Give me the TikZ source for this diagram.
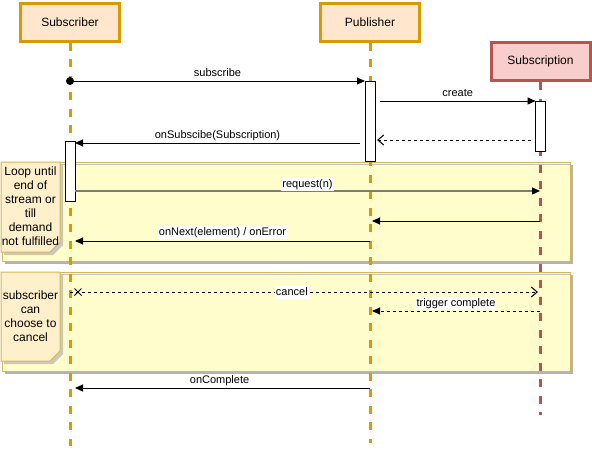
\documentclass[tikz,border=0pt]{standalone}
\usepackage{fontspec}
\setmainfont{Liberation Sans}
\usetikzlibrary{arrows.meta,calc}

\definecolor{lifeOrange}{HTML}{D79B00}
\definecolor{headOrange}{HTML}{FFE6CC}
\definecolor{lifeRed}{HTML}{B85450}
\definecolor{headRed}{HTML}{F8CECC}
\definecolor{frameFill}{HTML}{FFFDCC}
\definecolor{frameLine}{HTML}{D6B656}
\definecolor{noteFill}{HTML}{FFF0CC}
\definecolor{shadowGrey}{HTML}{B3B3B3}
\definecolor{fadedLine}{RGB}{125,125,105}

\tikzset{
  headbox/.style 2 args={draw=#1, fill=#2, line width=3pt, minimum width=99pt,
    minimum height=38pt, inner sep=0pt, font=\fontsize{12}{14}\selectfont},
  lifeline/.style={draw=#1, line width=3pt, dash pattern=on 8pt off 8.5pt},
  activation/.style={draw=black, fill=white, line width=1pt, minimum width=10pt,
    inner sep=0pt, outer sep=0pt},
  msg/.style={line width=1pt, -{Triangle[length=8pt,width=7pt]}},
  dashmsg/.style={msg, dash pattern=on 3pt off 3pt},
  openreply/.style={line width=1pt, dash pattern=on 3pt off 3pt,
    -{Straight Barb[length=6pt,width=10pt,line width=1pt]}},
  lbl/.style={fill=white, inner sep=1pt, font=\fontsize{11}{13}\selectfont,
    text height=8pt, text depth=2.5pt},
  framebox/.style={draw=frameLine, fill=frameFill, line width=1pt},
  notebox/.style={draw=frameLine, fill=noteFill, line width=1pt},
  notetext/.style={font=\fontsize{12}{14}\selectfont, align=center, inner sep=0pt},
}

\begin{document}
\begin{tikzpicture}[x=1pt,y=-1pt]
\useasboundingbox (0,0) rectangle (592,453);

% ---- combined fragments (loop / cancel) with their notes ----
\fill[shadowGrey] (5,165) rectangle (573,264);
\draw[framebox] (2,162) rectangle (570,261);
\draw[shadowGrey!80, line width=0.8pt] (5,164.6) -- (569.5,164.6);
\fill[shadowGrey!70!frameFill] (4,165) -- (63,165) -- (63,245) -- (53,255) -- (4,255) -- cycle;
\draw[notebox] (1,162) -- (60,162) -- (60,242) -- (50,252) -- (1,252) -- cycle;
\node[notetext] (loopNote) at (30.5,206.5)
  {Loop until\\end of\\stream or\\till\\demand\\not fulfilled};

\fill[shadowGrey] (5,275) rectangle (573,374);
\draw[framebox] (2,272) rectangle (570,371);
\draw[shadowGrey!80, line width=0.8pt] (5,274.6) -- (569.5,274.6);
\fill[shadowGrey!70!frameFill] (4,275) -- (63,275) -- (63,354) -- (53,364) -- (4,364) -- cycle;
\draw[notebox] (1,272) -- (60,272) -- (60,351) -- (50,361) -- (1,361) -- cycle;
\node[notetext] (cancelNote) at (30.5,316.5)
  {subscriber\\can\\choose to\\cancel};

% ---- participants ----
\node[headbox={lifeOrange}{headOrange}] (subscriber) at (70,22) {Subscriber};
\node[headbox={lifeOrange}{headOrange}] (publisher) at (370,22) {Publisher};
\node[headbox={lifeRed}{headRed}] (subscription) at (540.5,61.5) {Subscription};

% ---- lifelines ----
\coordinate (subscriberEnd) at (70,446);
\coordinate (publisherEnd) at (370,443);
\coordinate (subscriptionEnd) at (540.5,415);
\draw[lifeline=lifeOrange] (subscriber.south) -- (subscriberEnd);
\draw[lifeline=lifeOrange] (publisher.south) -- (publisherEnd);
\draw[lifeline=lifeRed] (subscription.south) -- (subscriptionEnd);

% ---- activation bars ----
\node[activation, minimum height=80pt] (pubAct) at (370,121) {};
\node[activation, minimum height=50pt] (subnAct) at (540.5,126) {};
\node[activation, minimum height=60pt] (subAct) at (70,171) {};

% ---- messages ----
\coordinate (subscribeStart) at (70,81);
\fill (subscribeStart) circle (4pt);
\draw[msg] (subscribeStart) -- node[lbl, yshift=7pt] (lblSubscribe) {subscribe} (pubAct.north west);

\coordinate (createStart) at (380,101);
\draw[msg] (createStart) -- node[lbl, yshift=7.5pt] (lblCreate) {create} (subnAct.north west);

\coordinate (replyStart) at (531,140);
\coordinate (replyEnd) at (377,140);
\draw[openreply] (replyStart) -- (replyEnd);

\coordinate (onSubStart) at (360,143);
\coordinate (onSubEnd) at (75,143);
\draw[msg] (onSubStart) -- node[lbl, yshift=7.5pt] (lblOnSub) {onSubscibe(Subscription)} (onSubEnd);

\coordinate (requestStart) at (75,191);
\coordinate (requestEnd) at (540,191);
\draw[line width=1.3pt, draw=fadedLine, -{Triangle[length=8pt,width=7pt,color=black]}]
  (requestStart) -- node[lbl, yshift=6.5pt] (lblRequest) {request(n)} (requestEnd);

\coordinate (emitStart) at (540,221);
\coordinate (emitEnd) at (372,221);
\draw[msg] (emitStart) -- (emitEnd);

\coordinate (onNextStart) at (370,241);
\coordinate (onNextEnd) at (75,241);
\draw[msg] (onNextStart) -- node[lbl, yshift=8.5pt] (lblOnNext) {onNext(element) / onError} (onNextEnd);

\coordinate (cancelStart) at (70,292);
\coordinate (cancelEnd) at (538,292);
\draw[openreply] (cancelStart) -- node[lbl, pos=0.474, yshift=-0.5pt] (lblCancel) {cancel} (cancelEnd);
\coordinate (cancelMark) at (78,292);
\draw[line width=1pt] ($(cancelMark)+(-3.5,-3.5)$) -- ($(cancelMark)+(3.5,3.5)$)
  ($(cancelMark)+(-3.5,3.5)$) -- ($(cancelMark)+(3.5,-3.5)$);

\coordinate (triggerStart) at (540,311);
\coordinate (triggerEnd) at (372,311);
\draw[dashmsg] (triggerStart) -- node[lbl, yshift=7.5pt] (lblTrigger) {trigger complete} (triggerEnd);

\coordinate (completeStart) at (370,388);
\coordinate (completeEnd) at (75,388);
\draw[msg] (completeStart) -- node[lbl, pos=0.51, yshift=7.5pt] (lblComplete) {onComplete} (completeEnd);

\end{tikzpicture}
\end{document}
